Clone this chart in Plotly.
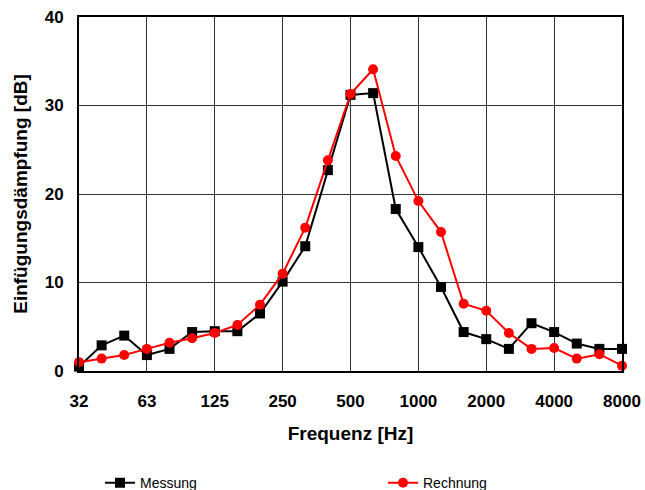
import plotly.graph_objects as go

freqs = ["31.5", "40", "50", "63", "80", "100", "125", "160", "200", "250", "315", "400", "500",
         "630", "800", "1000", "1250", "1600", "2000", "2500", "3150", "4000", "5000", "6300", "8000"]
messung = [0.5, 2.9, 4.0, 1.8, 2.5, 4.4, 4.5, 4.5, 6.5, 10.1, 14.1, 22.7, 31.2,
           31.4, 18.3, 14.0, 9.5, 4.4, 3.6, 2.5, 5.4, 4.4, 3.1, 2.5, 2.5]
rechnung = [1.0, 1.4, 1.8, 2.5, 3.2, 3.7, 4.3, 5.2, 7.5, 11.0, 16.2, 23.8, 31.3,
            34.1, 24.3, 19.2, 15.7, 7.6, 6.8, 4.3, 2.5, 2.6, 1.4, 1.9, 0.6]
tick_labels = ["32", "63", "125", "250", "500", "1000", "2000", "4000", "8000"]

x = list(range(len(freqs)))
tickvals = x[::3]

fig = go.Figure()
fig.add_trace(go.Scatter(x=x, y=messung, name="Messung", mode="lines+markers",
                         line=dict(color="black", width=2),
                         marker=dict(symbol="square", size=10, color="black"),
                         cliponaxis=False, legend="legend"))
fig.add_trace(go.Scatter(x=x, y=rechnung, name="Rechnung", mode="lines+markers",
                         line=dict(color="#ff0000", width=2),
                         marker=dict(symbol="circle", size=10, color="#ff0000"),
                         cliponaxis=False, legend="legend2"))

font = "Liberation Sans, Arial, sans-serif"
leg_common = dict(orientation="h", xref="container", yref="container",
                  xanchor="left", yanchor="middle", y=0.014,
                  font=dict(size=14, family=font), itemwidth=30,
                  bgcolor="rgba(0,0,0,0)")
fig.update_layout(
    width=645, height=490,
    margin=dict(l=79, r=23, t=17, b=119, autoexpand=False),
    paper_bgcolor="white", plot_bgcolor="white",
    font=dict(family=font, color="black"),
    showlegend=True,
    legend=dict(x=100 / 645, **leg_common),
    legend2=dict(x=383 / 645, **leg_common),
    xaxis=dict(range=[0, 24], tickvals=tickvals, ticktext=tick_labels,
               showgrid=True, gridcolor="#333333", gridwidth=1,
               showline=True, linecolor="black", linewidth=2, mirror=True,
               ticks="", ticklabelstandoff=14,
               tickfont=dict(size=17, family=font, weight="bold"),
               title=dict(text="<b>Frequenz [Hz]</b>", font=dict(size=19), standoff=16),
               zeroline=False),
    yaxis=dict(range=[0, 40], tickvals=[0, 10, 20, 30, 40],
               showgrid=True, gridcolor="#333333", gridwidth=1,
               showline=True, linecolor="black", linewidth=2, mirror=True,
               ticks="", ticklabelstandoff=10,
               tickfont=dict(size=17, family=font, weight="bold"),
               title=dict(text="<b>Einfügungsdämpfung [dB]</b>", font=dict(size=19), standoff=12),
               zeroline=False),
)

fig.write_html("out.html")
